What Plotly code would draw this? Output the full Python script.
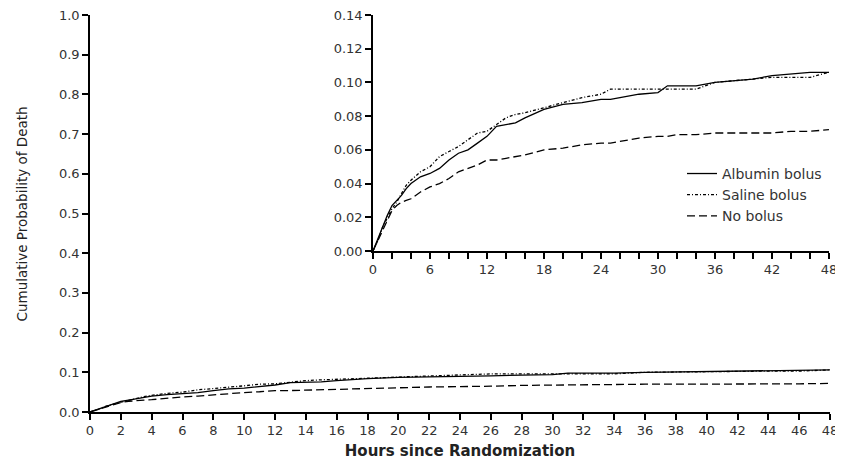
import plotly.graph_objects as go

hours = [0, 0.5, 1, 1.5, 2, 2.5, 3, 3.5, 4, 5, 6, 7, 8, 9, 10, 11, 12, 13, 14, 15, 16, 18, 20, 22, 24,
         25, 26, 28, 30, 31, 32, 34, 36, 38, 40, 42, 44, 46, 48]
albumin = [0, 0.007, 0.015, 0.021, 0.027, 0.030, 0.033, 0.037, 0.040, 0.044, 0.046, 0.049, 0.054, 0.058,
           0.060, 0.064, 0.068, 0.074, 0.075, 0.076, 0.079, 0.084, 0.087, 0.088, 0.090, 0.090, 0.091,
           0.093, 0.094, 0.098, 0.098, 0.098, 0.100, 0.101, 0.102, 0.104, 0.105, 0.106, 0.106]
saline = [0, 0.006, 0.014, 0.020, 0.025, 0.029, 0.034, 0.039, 0.042, 0.047, 0.050, 0.056, 0.059, 0.062,
          0.066, 0.070, 0.071, 0.075, 0.079, 0.081, 0.082, 0.085, 0.088, 0.091, 0.093, 0.096, 0.096,
          0.096, 0.096, 0.096, 0.096, 0.096, 0.100, 0.101, 0.102, 0.103, 0.103, 0.103, 0.106]
nobolus = [0, 0.006, 0.013, 0.019, 0.024, 0.027, 0.029, 0.030, 0.031, 0.035, 0.038, 0.040, 0.043, 0.047,
           0.049, 0.051, 0.054, 0.054, 0.055, 0.056, 0.057, 0.060, 0.061, 0.063, 0.064, 0.064, 0.065,
           0.067, 0.068, 0.068, 0.069, 0.069, 0.070, 0.070, 0.070, 0.070, 0.071, 0.071, 0.072]

series = [("Albumin bolus", albumin, "solid"),
          ("Saline bolus", saline, "3px,2px,1px,2px"),
          ("No bolus", nobolus, "8px,4px")]

main_x_ticks = list(range(0, 49, 2))
main_y_ticks = [round(i * 0.1, 1) for i in range(11)]
inset_x_labels = list(range(0, 49, 6))
inset_y_ticks = [round(i * 0.02, 2) for i in range(8)]

FONT = "DejaVu Sans"
fig = go.Figure()
for name, vals, dash in series:
    fig.add_trace(go.Scatter(x=hours, y=vals, mode="lines",
                             line=dict(color="black", width=1.3, dash=dash),
                             showlegend=False, xaxis="x", yaxis="y", hoverinfo="skip"))
for name, vals, dash in series:
    fig.add_trace(go.Scatter(x=hours, y=vals, mode="lines", name=name,
                             line=dict(color="black", width=1.3, dash=dash),
                             xaxis="x2", yaxis="y2"))

axis_common = dict(showline=True, linecolor="black", linewidth=1.5, ticks="outside",
                   tickcolor="black", tickwidth=1.5, ticklen=6, showgrid=False, zeroline=False,
                   automargin=False, ticklabeloverflow="allow",
                   tickfont=dict(family=FONT, size=13, color="#333"))

fig.update_layout(
    width=835, height=457,
    margin=dict(l=82, r=13, t=7, b=53),
    plot_bgcolor="white", paper_bgcolor="white",
    font=dict(family=FONT, color="#222"),
    xaxis=dict(domain=[0, 1], range=[0, 48], tickvals=main_x_ticks,
               title=dict(text="<b>Hours since Randomization</b>", font=dict(size=15, family=FONT), standoff=8),
               **axis_common),
    yaxis=dict(domain=[0, 1], range=[0, 1.0], tickvals=main_y_ticks, tickformat=".1f",
               **axis_common),
    xaxis2=dict(domain=[0.3824, 0.9986], anchor="y2", range=[0, 48], tickvals=list(range(0, 49, 2)),
                ticktext=[str(v) if v in inset_x_labels else "" for v in range(0, 49, 2)],
                **axis_common),
    yaxis2=dict(domain=[0.4055, 1.0], anchor="x2", range=[0, 0.14], tickvals=inset_y_ticks,
                tickformat=".2f", **axis_common),
    legend=dict(x=0.80, y=0.64, xanchor="left", yanchor="top", bgcolor="rgba(0,0,0,0)",
                font=dict(family=FONT, size=14, color="#333"), tracegroupgap=0),
    annotations=[dict(text="Cumulative Probability of Death", textangle=-90,
                      xref="paper", yref="paper", x=-0.0919, y=0.5,
                      xanchor="center", yanchor="middle", showarrow=False,
                      font=dict(family=FONT, size=13.5, color="#222"))],
)

fig.write_html("out.html")
